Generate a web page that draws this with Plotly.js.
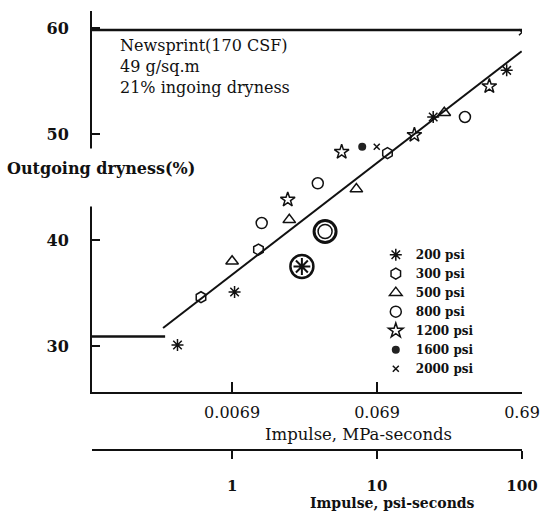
<!DOCTYPE html>
<html>
<head>
<meta charset="utf-8">
<script src="https://cdn.plot.ly/plotly-3.0.1.min.js"></script>
<style>html,body{margin:0;padding:0;background:#fff;}</style>
</head>
<body>
<div id="chart" style="width:547px;height:512px;"></div>
<script>
// ---- data (impulse in psi-seconds, outgoing dryness in %) ----
const seriesNames = ['200 psi', '300 psi', '500 psi', '800 psi', '1200 psi', '1600 psi', '2000 psi'];
const x200 = [0.42, 1.04, 24.4, 78.4];
const y200 = [30.1, 35.1, 51.6, 56.0];
const x300 = [0.61, 1.52, 11.8];
const y300 = [34.6, 39.1, 48.2];
const x500 = [1.0, 2.48, 7.2, 29.1];
const y500 = [38.0, 41.9, 44.8, 52.0];
const x800 = [1.6, 3.9, 40.4];
const y800 = [41.6, 45.35, 51.6];
const x1200 = [2.42, 5.7, 18.1, 59.5];
const y1200 = [43.8, 48.3, 49.9, 54.5];
const x1600 = [7.9];
const y1600 = [48.8];
const x2000 = [9.95, 100];
const y2000 = [48.8, 59.6];
// large highlighted points
const ringX = [4.38];
const ringY = [40.8];
const starRingX = [3.03];
const starRingY = [37.5];
// fitted line segments
const trendX = [0.334, 99.5];
const trendY = [31.7, 57.8];
const plateauX = [0.108, 0.345];
const plateauY = [30.9, 30.9];
const capX = [0.108, 100];
const capY = [59.8, 59.8];
// ticks
const xTickPsi = [1, 10, 100];
const xTickPsiText = ['1', '10', '100'];
const xTickMPaText = ['0.0069', '0.069', '0.69'];
const yTicks = [30, 40, 50, 60];
const xRangePsi = [0.108, 100];
const yRange = [25.66, 61.6];

const SERIF = 'DejaVu Serif';
const INK = '#111';

function pts(x, y, name, symbol, size, extra) {
  return Object.assign({
    type: 'scatter', mode: 'markers', x: x, y: y, name: name,
    marker: {symbol: symbol, size: size, color: INK, line: {color: INK, width: 1.5}},
    hoverinfo: 'skip'
  }, extra || {});
}
function seg(x, y, w, axis) {
  return {type: 'scatter', mode: 'lines', x: x, y: y, xaxis: axis || 'x',
    line: {color: INK, width: w}, showlegend: false, hoverinfo: 'skip'};
}

const traces = [
  seg(capX, capY, 2.5),
  seg(plateauX, plateauY, 2.5),
  seg(trendX, trendY, 2, 'x2'),
  pts(x200, y200, seriesNames[0], 'asterisk-open', 10),
  pts(x300, y300, seriesNames[1], 'hexagon-open', 11),
  pts(x500, y500, seriesNames[2], 'triangle-up-open', 11),
  pts(x800, y800, seriesNames[3], 'circle-open', 11),
  pts(x1200, y1200, seriesNames[4], 'star-open', 11),
  pts(x1600, y1600, seriesNames[5], 'circle', 8, {marker: {symbol: 'circle', size: 8, color: '#222'}}),
  pts(x2000, y2000, seriesNames[6], 'x-thin-open', 6),
  pts(ringX, ringY, '', 'circle-open', 22, {showlegend: false, marker: {symbol: 'circle-open', size: 22, color: INK, line: {color: INK, width: 3}}}),
  pts(ringX, ringY, '', 'circle-open', 14, {showlegend: false}),
  pts(starRingX, starRingY, '', 'circle-open', 23, {showlegend: false, marker: {symbol: 'circle-open', size: 23, color: INK, line: {color: INK, width: 2.5}}}),
  pts(starRingX, starRingY, '', 'asterisk-open', 14, {showlegend: false, marker: {symbol: 'asterisk-open', size: 14, color: INK, line: {color: INK, width: 2}}})
];

const logR = xRangePsi.map(Math.log10);
const layout = {
  width: 547, height: 512,
  margin: {l: 92, r: 25, t: 11, b: 62},
  paper_bgcolor: '#fff', plot_bgcolor: '#fff',
  showlegend: true,
  xaxis: {
    type: 'log', range: logR, anchor: 'y',
    tickvals: xTickPsi, ticktext: xTickMPaText,
    ticks: 'inside', ticklen: 10, tickwidth: 2, tickcolor: INK,
    showline: true, linewidth: 2, linecolor: INK,
    showgrid: false, zeroline: false,
    tickfont: {family: SERIF, size: 16, color: INK},
    ticklabelstandoff: 5
  },
  xaxis2: {
    type: 'log', range: logR, overlaying: 'x', anchor: 'free', position: 0, side: 'bottom',
    tickvals: xTickPsi, ticktext: xTickPsiText,
    ticks: 'outside', ticklen: 8, tickwidth: 2, tickcolor: INK,
    showline: true, linewidth: 2, linecolor: INK,
    showgrid: false, zeroline: false,
    tickfont: {family: SERIF, size: 15, color: INK, weight: 'bold'},
    ticklabelstandoff: 14
  },
  yaxis: {
    domain: [0.1321, 1], range: yRange,
    tickvals: yTicks, ticks: 'inside', ticklen: 8, tickwidth: 2, tickcolor: INK,
    showline: true, linewidth: 2, linecolor: INK,
    showgrid: false, zeroline: false,
    tickfont: {family: SERIF, size: 16, color: INK, weight: 'bold'},
    ticklabelstandoff: 18
  },
  legend: {
    x: 0.66, y: 0.478, xanchor: 'left', yanchor: 'top',
    bgcolor: 'rgba(0,0,0,0)', borderwidth: 0,
    font: {family: SERIF, size: 12, color: INK, weight: 'bold'},
    itemwidth: 30, tracegroupgap: 0
  },
  annotations: [
    {xref: 'paper', yref: 'paper', x: -0.224, y: 0.688, xanchor: 'left', yanchor: 'top',
     text: 'Outgoing dryness(%)', showarrow: false, align: 'left',
     width: 205, height: 37, valign: 'top', bgcolor: '#fff', borderpad: 10,
     font: {family: SERIF, size: 16, color: INK, weight: 'bold'}},
    {xref: 'paper', yref: 'paper', x: 0.06, y: 0.947, xanchor: 'left', yanchor: 'top',
     text: 'Newsprint(170 CSF)<br>49 g/sq.m<br>21% ingoing dryness', showarrow: false, align: 'left',
     font: {family: SERIF, size: 16, color: INK}},
    {xref: 'paper', yref: 'paper', x: 0.619, y: 0.036, xanchor: 'center', yanchor: 'middle',
     text: 'Impulse, MPa-seconds', showarrow: false,
     font: {family: SERIF, size: 16.5, color: INK}},
    {xref: 'paper', yref: 'paper', x: 0.698, y: -0.121, xanchor: 'center', yanchor: 'middle',
     text: 'Impulse, psi-seconds', showarrow: false,
     font: {family: SERIF, size: 14, color: INK, weight: 'bold'}}
  ]
};

Plotly.newPlot('chart', traces, layout, {staticPlot: true, displayModeBar: false});
</script>
</body>
</html>
